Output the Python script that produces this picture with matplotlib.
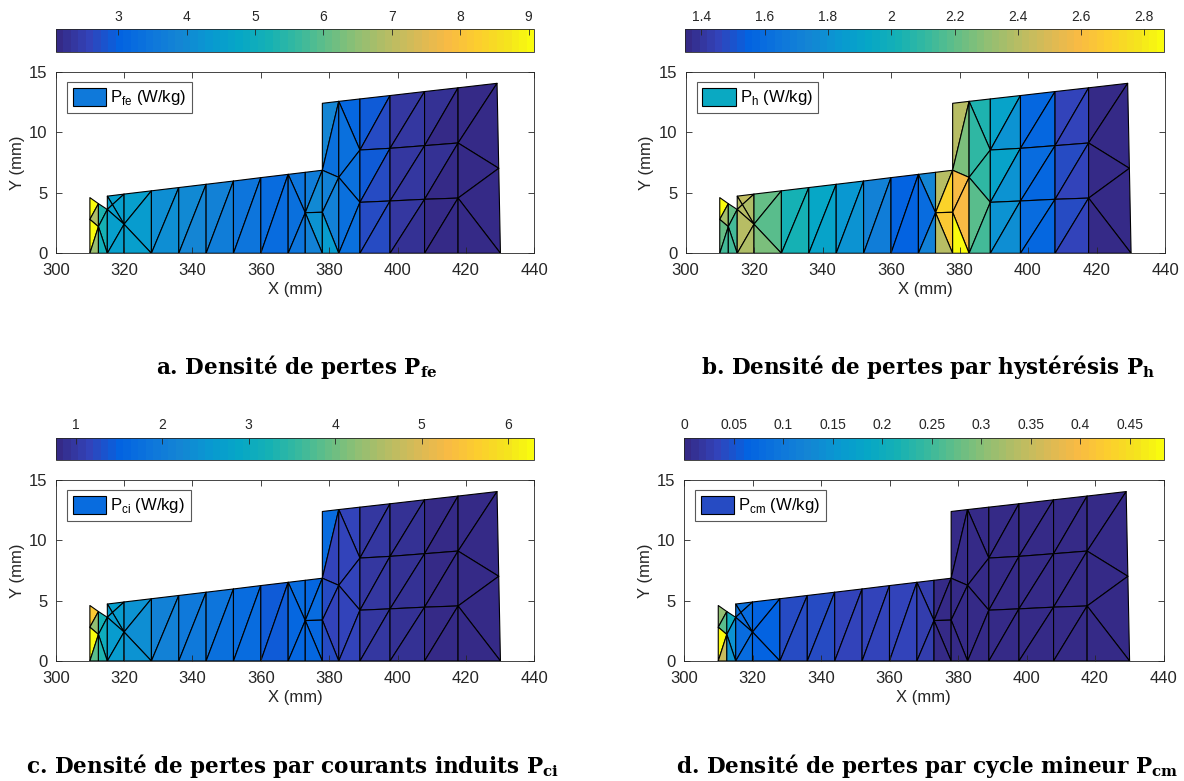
import numpy as np
import matplotlib
matplotlib.use("Agg")
import matplotlib.pyplot as plt
from matplotlib.colors import LinearSegmentedColormap, Normalize
from matplotlib.patches import Patch
from matplotlib.ticker import FuncFormatter

plt.rcParams["font.family"] = ["Liberation Sans", "DejaVu Sans"]
plt.rcParams["mathtext.fontset"] = "custom"
plt.rcParams["mathtext.rm"] = "Liberation Sans"
plt.rcParams["mathtext.bf"] = "DejaVu Serif:bold"

# mesh nodes (mm)
node_x = [310, 310, 310, 312.5, 312.5, 312.5, 315.1, 315.1, 315.1, 316.6,
          320, 320, 320, 328, 328, 336, 336, 344, 344, 352, 352, 360, 360,
          368, 368, 373, 373, 373, 378, 378, 378, 378, 382.8, 382.8, 382.8,
          389, 389, 389, 389, 397.8, 397.8, 397.8, 397.8,
          407.9, 407.9, 407.9, 407.9, 417.7, 417.7, 417.7, 417.7,
          430.1, 429.6, 429.1]
node_y = [0, 2.8, 4.6, 0, 2.2, 4.1, 0, 3.62, 4.72, 4.02,
          0, 2.4, 4.89, 0, 5.16, 0, 5.43, 0, 5.70, 0, 5.97, 0, 6.25,
          0, 6.52, 0, 3.35, 6.69, 0, 3.39, 6.86, 12.39, 0, 6.27, 12.55,
          0, 4.21, 8.53, 12.75, 0, 4.32, 8.67, 13.03,
          0, 4.46, 8.89, 13.36, 0, 4.56, 9.11, 13.67,
          0, 7.02, 14.04]

# triangles (node indices)
triangles = [
    (2, 5, 1), (1, 5, 4), (1, 4, 0), (0, 4, 3),
    (5, 7, 4), (4, 7, 6), (4, 6, 3),
    (8, 12, 9), (8, 9, 7), (9, 12, 11), (7, 9, 11), (7, 11, 6), (6, 11, 10),
    (12, 14, 11), (11, 14, 13), (11, 13, 10),
    (14, 16, 13), (13, 16, 15), (16, 18, 15), (15, 18, 17),
    (18, 20, 17), (17, 20, 19), (20, 22, 19), (19, 22, 21),
    (22, 24, 21), (21, 24, 23),
    (24, 27, 26), (24, 26, 23), (23, 26, 25),
    (27, 30, 26), (26, 30, 29), (26, 29, 28), (26, 28, 25),
    (31, 34, 30), (30, 34, 33), (30, 33, 29), (29, 33, 32), (29, 32, 28),
    (34, 38, 37), (34, 37, 33), (33, 37, 36), (33, 36, 32), (32, 36, 35),
    (38, 42, 37), (37, 42, 41), (37, 41, 36), (36, 41, 40), (36, 40, 35), (35, 40, 39),
    (42, 46, 41), (41, 46, 45), (41, 45, 40), (40, 45, 44), (40, 44, 39), (39, 44, 43),
    (46, 50, 45), (45, 50, 49), (45, 49, 44), (44, 49, 48), (44, 48, 43), (43, 48, 47),
    (50, 53, 49), (49, 53, 52), (49, 52, 48), (48, 52, 51), (48, 51, 47),
]

# loss densities per triangle (W/kg)
p_fe = [9.0, 6.8, 9.05, 6.6, 5.3, 5.2, 5.1,
        4.6, 4.6, 4.55, 4.6, 4.6, 4.55, 4.5, 4.45, 4.5,
        4.15, 4.1, 3.95, 3.9, 3.75, 3.7, 3.5, 3.45, 3.2, 3.2,
        3.5, 3.4, 3.45, 3.7, 4.0, 4.2, 3.75,
        3.9, 3.4, 3.8, 3.8, 4.4,
        3.15, 3.3, 3.3, 3.35, 3.3,
        2.95, 2.65, 2.95, 2.7, 2.7, 2.65,
        2.4, 2.35, 2.4, 2.35, 2.35, 2.3,
        2.2, 2.18, 2.2, 2.17, 2.17, 2.15,
        2.1, 2.1, 2.1, 2.1, 2.1]
p_h = [2.84, 2.35, 2.2, 2.15, 2.2, 2.15, 2.15,
       2.42, 2.4, 2.38, 2.4, 2.4, 2.38, 2.2, 2.18, 2.25,
       2.03, 2.02, 1.92, 1.9, 1.84, 1.8, 1.72, 1.68, 1.56, 1.55,
       1.75, 1.6, 1.72, 2.4, 2.72, 2.65, 2.4,
       2.4, 2.27, 2.6, 2.58, 2.86,
       2.05, 2.1, 2.1, 2.18, 2.15,
       1.9, 1.8, 1.9, 1.8, 1.82, 1.78,
       1.57, 1.58, 1.6, 1.58, 1.6, 1.58,
       1.45, 1.46, 1.47, 1.46, 1.47, 1.46,
       1.36, 1.36, 1.37, 1.36, 1.36]
p_ci = [5.6, 4.3, 6.3, 3.8, 3.2, 3.1, 3.3,
        2.7, 2.65, 2.6, 2.65, 2.6, 2.6, 2.45, 2.4, 2.45,
        2.15, 2.1, 1.97, 1.95, 1.82, 1.8, 1.7, 1.68, 1.42, 1.42,
        1.65, 1.6, 1.62, 1.6, 1.65, 1.6, 1.6,
        1.65, 1.2, 1.22, 1.2, 1.25,
        1.15, 1.15, 1.15, 1.15, 1.15,
        1.0, 1.0, 1.0, 1.0, 1.0, 1.0,
        0.92, 0.92, 0.92, 0.92, 0.92, 0.92,
        0.85, 0.85, 0.85, 0.85, 0.85, 0.85,
        0.8, 0.8, 0.8, 0.8, 0.8]
p_cm = [0.31, 0.27, 0.48, 0.35, 0.2, 0.15, 0.15,
        0.085, 0.085, 0.08, 0.08, 0.078, 0.078, 0.065, 0.062, 0.065,
        0.044, 0.044, 0.04, 0.04, 0.036, 0.036, 0.035, 0.035, 0.034, 0.034,
        0.025, 0.025, 0.025, 0.006, 0.006, 0.006, 0.006,
        0.002, 0.002, 0.002, 0.002, 0.002,
        0.002, 0.002, 0.002, 0.002, 0.002,
        0.002, 0.002, 0.002, 0.002, 0.002, 0.002,
        0.002, 0.002, 0.002, 0.002, 0.002, 0.002,
        0.002, 0.002, 0.002, 0.002, 0.002, 0.002,
        0.002, 0.002, 0.002, 0.002, 0.002]

legend_labels = [r"P$_{\mathrm{fe}}$ (W/kg)", r"P$_{\mathrm{h}}$ (W/kg)",
                 r"P$_{\mathrm{ci}}$ (W/kg)", r"P$_{\mathrm{cm}}$ (W/kg)"]
captions = [r"a. Densité de pertes $\mathbf{P_{fe}}$",
            r"b. Densité de pertes par hystérésis $\mathbf{P_{h}}$",
            r"c. Densité de pertes par courants induits $\mathbf{P_{ci}}$",
            r"d. Densité de pertes par cycle mineur $\mathbf{P_{cm}}$"]
color_limits = [(2.09, 9.08), (1.348, 2.862), (0.77, 6.3), (0.0, 0.484)]
cbar_ticks = [[3, 4, 5, 6, 7, 8, 9],
              [1.4, 1.6, 1.8, 2.0, 2.2, 2.4, 2.6, 2.8],
              [1, 2, 3, 4, 5, 6],
              [0, 0.05, 0.1, 0.15, 0.2, 0.25, 0.3, 0.35, 0.4, 0.45]]
legend_levels = [3.6, 1.94, 1.65, 0.045]

# MATLAB parula (sampled)
parula_pts = [
    [0.2081, 0.1663, 0.5292], [0.1959, 0.2645, 0.7279], [0.0117, 0.3875, 0.8820],
    [0.0498, 0.4586, 0.8641], [0.0793, 0.5200, 0.8312], [0.0343, 0.5966, 0.8199],
    [0.0228, 0.6535, 0.7768], [0.0843, 0.6928, 0.7062], [0.2178, 0.7250, 0.6193],
    [0.3953, 0.7459, 0.5244], [0.5709, 0.7485, 0.4494], [0.7184, 0.7411, 0.3905],
    [0.8507, 0.7299, 0.3360], [0.9739, 0.7314, 0.2666], [0.9880, 0.8066, 0.1794],
    [0.9589, 0.8949, 0.1132], [0.9763, 0.9831, 0.0538]]
parula_pos = [i * 4 / 63 for i in range(16)] + [1.0]
parula = LinearSegmentedColormap.from_list("parula", list(zip(parula_pos, parula_pts)), N=64)

W, H = 1184, 781


def px_rect(x0, y0, x1, y1):
    return [x0 / W, 1 - y1 / H, (x1 - x0) / W, (y1 - y0) / H]


axes_px = [(55.7, 71.7, 534.3, 253.3), (685.5, 71.7, 1165, 253.3),
           (55.7, 480, 534.3, 661), (684, 480, 1163.5, 661)]
cbar_px = [(56, 29.3, 534, 51.7), (685, 29.3, 1164, 51.7),
           (56, 437.6, 534, 460), (684, 437.6, 1163.5, 460)]
caption_px = [(297, 367), (928, 367), (293, 766), (927, 766)]

fig = plt.figure(figsize=(W / 100, H / 100), dpi=100)
datasets = [p_fe, p_h, p_ci, p_cm]

for k in range(4):
    ax = fig.add_axes(px_rect(*axes_px[k]))
    vmin, vmax = color_limits[k]
    tpc = ax.tripcolor(node_x, node_y, triangles, facecolors=np.array(datasets[k]),
                       cmap=parula, vmin=vmin, vmax=vmax,
                       edgecolors="black", linewidth=0.8)
    ax.set_xlim(300, 440)
    ax.set_ylim(0, 15)
    ax.set_xticks(np.arange(300, 441, 20))
    ax.set_yticks([0, 5, 10, 15])
    ax.tick_params(direction="in", top=True, right=True, labelsize=12,
                   length=4, width=0.6, colors="0.15", labelcolor="0.15")
    ax.tick_params(axis="x", pad=7)
    ax.tick_params(axis="y", pad=6)
    for sp in ax.spines.values():
        sp.set_linewidth(0.6)
        sp.set_color("0.15")
    ax.set_xlabel("X (mm)", fontsize=12, color="0.15", labelpad=3)
    ax.set_ylabel("Y (mm)", fontsize=12, color="0.15", labelpad=3)

    swatch = parula(Normalize(vmin, vmax)(legend_levels[k]))
    leg = ax.legend([Patch(facecolor=swatch, edgecolor="black", linewidth=0.8)],
                    [legend_labels[k]], loc="upper left",
                    bbox_to_anchor=(0.023, 0.945), borderaxespad=0,
                    fancybox=False, framealpha=1, edgecolor="0.35",
                    fontsize=12, handlelength=2.0, handleheight=1.3,
                    handletextpad=0.25, borderpad=0.35)
    leg.get_frame().set_linewidth(0.8)

    cax = fig.add_axes(px_rect(*cbar_px[k]))
    cb = fig.colorbar(tpc, cax=cax, orientation="horizontal", ticks=cbar_ticks[k])
    cax.xaxis.set_ticks_position("top")
    cax.xaxis.set_major_formatter(FuncFormatter(lambda v, p: "%g" % round(v, 3)))
    cax.tick_params(direction="in", length=4, width=0.6, labelsize=10,
                    colors="0.15", labelcolor="0.15", pad=4)
    cb.outline.set_linewidth(0.6)
    cb.outline.set_edgecolor("0.15")

    cx, cy = caption_px[k]
    fig.text(cx / W, 1 - cy / H, captions[k], ha="center", va="center",
             fontsize=15.5, fontweight="bold", family="DejaVu Serif")

fig.savefig("out.png", dpi=100)
